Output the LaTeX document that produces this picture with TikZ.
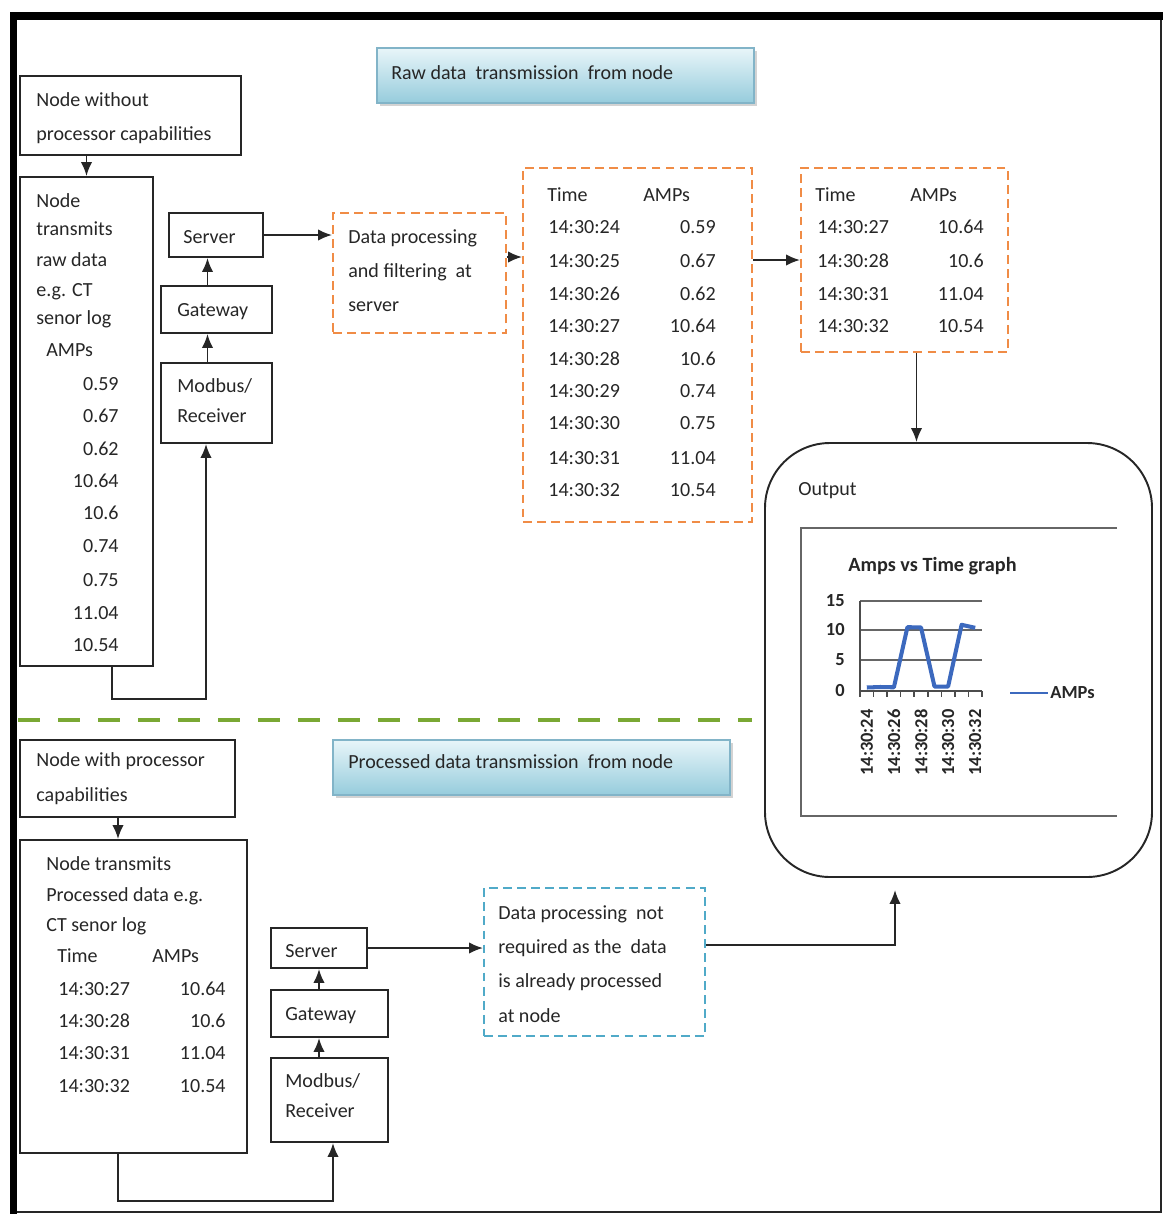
\documentclass[tikz,border=0pt]{standalone}
\usepackage{fontspec}
\setmainfont{Carlito}
\usetikzlibrary{positioning}
\usetikzlibrary{fit}
\usetikzlibrary{calc}
\usetikzlibrary{arrows.meta}
\usetikzlibrary{shadows}

\definecolor{dashorange}{RGB}{240,140,70}
\definecolor{dashblue}{RGB}{80,170,200}
\definecolor{sepgreen}{RGB}{122,168,52}
\definecolor{titletop}{RGB}{232,245,249}
\definecolor{titlebot}{RGB}{150,204,220}
\definecolor{titleline}{RGB}{130,180,200}
\definecolor{ampline}{RGB}{60,105,190}

\tikzset{
  plainbox/.style={draw=black!85, line width=1.1pt, inner sep=0pt},
  orangebox/.style={draw=dashorange, dash pattern=on 5pt off 3pt, line width=1.1pt, inner sep=0pt},
  bluebox/.style={draw=dashblue, dash pattern=on 5pt off 3pt, line width=1.1pt, inner sep=0pt},
  titlebox/.style={draw=titleline, line width=0.8pt, top color=titletop, bottom color=titlebot,
    drop shadow={opacity=0.35, shadow xshift=1.5pt, shadow yshift=-1.5pt}, inner sep=0pt},
  txt/.style={anchor=base west, inner sep=0pt, text=black!85, font=\fontsize{11.4}{14}\selectfont},
  txtr/.style={txt, anchor=base east},
  arr/.style={-{Latex[length=2.8mm,width=2.3mm]}, line width=1.1pt, draw=black!85},
  chartlbl/.style={inner sep=0pt, text=black!85, font=\bfseries\fontsize{10.5}{12}\selectfont}
}

\begin{document}
\begin{tikzpicture}[x=0.02cm, y=-0.02cm]
  \useasboundingbox (0,0) rectangle (1163,1214);
  % outer frame
  \fill[black] (10,12) rectangle (1163,20);
  \fill[black] (10,12) rectangle (17,1214);
  \draw[black!85, line width=1.2pt] (17,1212) -- (1161,1212) -- (1161,20);

  % raw data part
  \node[titlebox, fit={(377,48) (754,103)}] (title1) {};
  \node[txt] (title1-t) at (391,79) {Raw data~ transmission~ from node};

  \node[plainbox, fit={(20,76) (241,155)}] (nwo) {};
  \foreach \y/\t [count=\i] in {106/Node without, 140/processor capabilities}
    \node[txt] (nwo-\i) at (36,\y) {\t};

  \node[plainbox, fit={(20,177) (153,666)}] (rawnode) {};
  \foreach \y/\t [count=\i] in {207/Node, 235/transmits, 266/raw data, 296/e.g. CT, 324/senor log}
    \node[txt] (raw-\i) at (36,\y) {\t};
  \node[txt] (raw-amps) at (46,356) {AMPs};
  \foreach \y/\a [count=\i] in {390/0.59, 422/0.67, 455/0.62, 487/10.64, 519/10.6,
                                552/0.74, 586/0.75, 619/11.04, 651/10.54}
    \node[txtr] (raw-a\i) at (119,\y) {\a};

  \node[plainbox, fit={(169,213) (263,257)}] (srv) {};
  \node[txt] (srv-t) at (183,243) {Server};
  \node[plainbox, fit={(161,286) (272,333)}] (gw) {};
  \node[txt] (gw-t) at (177,316) {Gateway};
  \node[plainbox, fit={(161,363) (272,443)}] (mod) {};
  \foreach \y/\t [count=\i] in {392/{Modbus/}, 422/Receiver}
    \node[txt] (mod-\i) at (177,\y) {\t};

  \node[orangebox, fit={(333,213) (506,333)}] (proc) {};
  \foreach \y/\t [count=\i] in {243/Data processing, 277/and filtering~ at, 311/server}
    \node[txt] (proc-\i) at (348,\y) {\t};

  \node[orangebox, fit={(523,168) (752,522)}] (tabA) {};
  \node[txt] (tabA-h1) at (547,201) {Time};
  \node[txt] (tabA-h2) at (643,201) {AMPs};
  \foreach \y/\tm/\a [count=\i] in {233/14:30:24/0.59, 267/14:30:25/0.67, 300/14:30:26/0.62,
      332/14:30:27/10.64, 365/14:30:28/10.6, 397/14:30:29/0.74, 429/14:30:30/0.75,
      464/14:30:31/11.04, 496/14:30:32/10.54} {
    \node[txt] (tabA-t\i) at (548,\y) {\tm};
    \node[txtr] (tabA-a\i) at (716,\y) {\a};
  }

  \node[orangebox, fit={(801,168) (1008,352)}] (tabB) {};
  \node[txt] (tabB-h1) at (815,201) {Time};
  \node[txt] (tabB-h2) at (910,201) {AMPs};
  \foreach \y/\tm/\a [count=\i] in {233/14:30:27/10.64, 267/14:30:28/10.6,
      300/14:30:31/11.04, 332/14:30:32/10.54} {
    \node[txt] (tabB-t\i) at (817,\y) {\tm};
    \node[txtr] (tabB-a\i) at (984,\y) {\a};
  }

  \draw[arr] (rawnode.north |- nwo.south) -- (rawnode.north);
  \draw[arr] ($(mod.north)+(-9,0)$) coordinate (m1) -- (m1 |- gw.south);
  \draw[arr] ($(gw.north)+(-9,0)$) coordinate (g1) -- (g1 |- srv.south);
  \draw[arr] ($(rawnode.south)+(25.5,0)$) -- ++(0,32) -| ($(mod.south)+(-10.5,0)$);
  \draw[arr] (srv.east) -- (srv.east -| proc.west);
  \draw[arr] ($(proc.east)+(0,-16)$) coordinate (p1) -- (p1 -| tabA.west);
  \draw[arr] (tabA.east |- tabB.west) -- (tabB.west);

  % output with the chart
  \node[plainbox, rounded corners=1.3cm, fit={(765,443) (1152,877)}] (out) {};
  \node[txt] (out-t) at (798,495) {Output};
  \draw[arr] ($(tabB.south)+(12,0)$) coordinate (t1) -- (t1 |- out.north);

  \draw[black!60, line width=1pt] (1117,528) -- (801,528) -- (801,816) -- (1117,816);
  \node[chartlbl, anchor=base west, font=\bfseries\fontsize{11.5}{13}\selectfont] (ctitle) at (848,571) {Amps vs Time graph};
  \foreach \y in {601,630,660}
    \draw[black!60, line width=0.9pt] (860,\y) -- (982,\y);
  \draw[black!70, line width=0.9pt] (860,601) -- (860,691) -- (982,691);
  \foreach \k in {0,...,9}
    \draw[black!70, line width=0.9pt] (860+\k*13.55,691) -- (860+\k*13.55,697);
  \foreach \y/\v in {601/15, 630/10, 660/5, 691/0}
    \node[chartlbl, anchor=east] (yl-\v) at (845,\y) {\v};
  \draw[ampline, line width=2.3pt, line join=round]
    (866.8,687.5) -- (880.3,687.0) -- (893.9,687.3) -- (907.4,627.2) -- (921.0,627.4)
    -- (934.5,686.6) -- (948.1,686.5) -- (961.6,624.8) -- (975.2,627.8);
  \foreach \x/\t [count=\i] in {866.8/14:30:24, 893.9/14:30:26, 921/14:30:28, 948.1/14:30:30, 975.2/14:30:32}
    \node[chartlbl, rotate=90, anchor=east] (xl-\i) at (\x,709) {\t};
  \draw[ampline, line width=1pt] (1010,693) coordinate (lg1) -- (1048,693) coordinate (lg2);
  \node[chartlbl, anchor=west] (lg-t) at ($(lg2)+(2,0)$) {AMPs};

  % separator
  \draw[sepgreen, line width=2.3pt, dash pattern=on 0.44cm off 0.36cm] (18,720) -- (752,720);

  % processed data part
  \node[titlebox, fit={(333,740) (730,795)}] (title2) {};
  \node[txt] (title2-t) at (348,768) {Processed data transmission~ from node};

  \node[plainbox, fit={(20,740) (235,817)}] (nw) {};
  \foreach \y/\t [count=\i] in {766/Node with processor, 801/capabilities}
    \node[txt] (nw-\i) at (36,\y) {\t};

  \node[plainbox, fit={(20,840) (247,1153)}] (procnode) {};
  \foreach \y/\t [count=\i] in {870/Node transmits, 901/Processed data e.g., 931/CT senor log}
    \node[txt] (pn-\i) at (46,\y) {\t};
  \node[txt] (pn-h1) at (57,962) {Time};
  \node[txt] (pn-h2) at (152,962) {AMPs};
  \foreach \y/\tm/\a [count=\i] in {995/14:30:27/10.64, 1027/14:30:28/10.6,
      1059/14:30:31/11.04, 1092/14:30:32/10.54} {
    \node[txt] (pn-t\i) at (58,\y) {\tm};
    \node[txtr] (pn-a\i) at (226,\y) {\a};
  }

  \node[plainbox, fit={(271,928) (367,968)}] (srv2) {};
  \node[txt] (srv2-t) at (285,957) {Server};
  \node[plainbox, fit={(271,990) (388,1037)}] (gw2) {};
  \node[txt] (gw2-t) at (285,1020) {Gateway};
  \node[plainbox, fit={(271,1058) (388,1142)}] (mod2) {};
  \foreach \y/\t [count=\i] in {1087/{Modbus/}, 1117/Receiver}
    \node[txt] (mod2-\i) at (285,\y) {\t};

  \node[bluebox, fit={(484,888) (705,1036)}] (proc2) {};
  \foreach \y/\t [count=\i] in {919/Data processing~ not, 953/required as the~ data,
                                987/is already processed, 1022/at node}
    \node[txt] (proc2-\i) at (498,\y) {\t};

  \draw[arr] ($(nw.south)+(-9.5,0)$) coordinate (n1) -- (n1 |- procnode.north);
  \draw[arr] (srv2.south |- mod2.north) -- (srv2.south |- gw2.south);
  \draw[arr] (srv2.south |- gw2.north) -- (srv2.south);
  \draw[arr] ($(procnode.south)+(-15.5,0)$) -- ++(0,47) -| ($(mod2.south)+(3.5,0)$);
  \draw[arr] (srv2.east) -- (srv2.east -| proc2.west);
  \draw[arr] ($(proc2.east)+(0,-17)$) -| ($(out.south)+(-63.5,12)$);
\end{tikzpicture}
\end{document}
